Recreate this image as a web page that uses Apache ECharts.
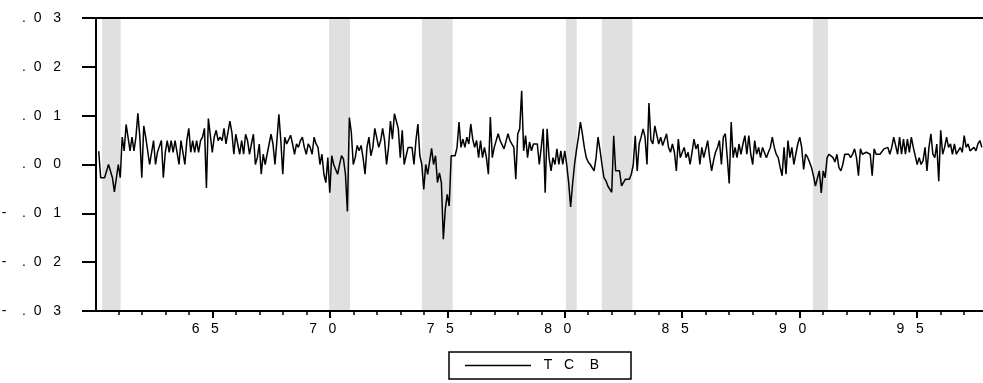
<!DOCTYPE html>
<html>
<head>
<meta charset="utf-8">
<script src="https://cdn.jsdelivr.net/npm/echarts@6/dist/echarts.min.js"></script>
<style>
	html, body { margin: 0; padding: 0; background: #fff; }
	#chart { width: 983px; height: 383px; }
</style>
</head>
<body>
<div id="chart"></div>
<script>
// monthly values, first one is 1960:03
const startYear = 1960;
const startMonth = 3;

const tcb1960s = [
	.0027, -.0027, -.0027, -.0027, -.0027, .0000, .0000, -.0027, -.0056, -.0056,
	.0000, -.0027, .0056, .0028, .0082, .0082, .0028, .0056, .0028, .0056, .0105, .0056,
	-.0027, .0079, .0056, .0056, .0000, .0000, .0049, .0000, .0025, .0025, .0049, -.0027,
	.0025, .0049, .0025, .0049, .0025, .0049, .0025, .0000, .0049, .0025, .0000, .0049,
	.0074, .0025, .0049, .0025, .0049, .0025, .0049, .0056, .0074, -.0048, .0094, .0090,
	.0025, .0056, .0070, .0049, .0056, .0049, .0074, .0042, .0066, .0089, .0066, .0021,
	.0062, .0062, .0021, .0049, .0021, .0062, .0049, .0021, .0042, .0062, .0000, .0014,
	.0042, -.0020, .0021, .0000, .0021, .0021, .0062, .0042, .0000, .0049, .0103, .0049,
	-.0020, .0056, .0042, .0042, .0060, .0042, .0021, .0042, .0035, .0049, .0056, .0035,
	.0021, .0042, .0035, .0021, .0056, .0042, .0035, .0000, .0021, -.0020, -.0037, .0014
];
const tcb1970s = [
	-.0058, .0018, .0000, .0000, -.0020, .0000, .0018, .0011, -.0020, -.0096, .0096, .0066,
	.0000, .0014, .0039, .0028, .0039, .0014, -.0020, .0035, .0056, .0018, .0035, .0074,
	.0074, .0035, .0049, .0074, .0049, .0000, .0035, .0089, .0052, .0104, .0089, .0073,
	.0014, .0070, .0000, .0018, .0035, .0035, .0035, .0000, .0049, .0083, .0018, .0000,
	-.0051, .0000, -.0020, -.0020, .0033, .0000, .0018, -.0037, -.0017, -.0037, -.0153, -.0091,
	-.0061, -.0085, .0018, .0018, .0018, .0035, .0087, .0035, .0052, .0035, .0056, .0042,
	.0083, .0052, .0035, .0049, .0014, .0049, .0014, .0035, .0014, -.0020, .0097, .0014,
	.0035, .0049, .0063, .0049, .0049, .0032, .0032, .0063, .0049, .0049, .0035, -.0030,
	.0063, .0073, .0151, .0028, .0059, .0014, .0046, .0028, .0042, .0042, .0042, .0000,
	.0035, .0073, -.0058, .0073, .0014, -.0013, .0014, .0000, .0032, .0000, .0028, .0000
];
const tcb1980s = [
	.0028, .0000, -.0037, -.0087, -.0040, .0000, .0030, .0056, .0087, .0063, .0035, .0014,
	.0005, .0000, .0000, -.0013, .0014, .0056, .0030, .0000, -.0027, -.0033, -.0044, -.0048,
	-.0057, .0059, -.0013, -.0013, -.0013, -.0044, -.0044, -.0030, -.0030, -.0030, -.0020, .0000,
	.0059, -.0013, .0042, .0056, .0073, .0056, .0000, .0126, .0050, .0042, .0079, .0079,
	.0042, .0056, .0039, .0042, .0063, .0035, .0025, .0042, .0025, -.0013, .0052, .0014,
	.0025, .0035, .0014, .0025, .0000, .0025, .0052, .0032, .0042, .0000, .0035, .0014,
	.0014, .0049, .0014, -.0013, .0008, .0025, .0035, .0049, .0000, .0056, .0063, .0014,
	-.0039, .0087, .0014, .0035, .0014, .0042, .0021, .0042, .0059, .0021, .0059, .0021,
	.0000, .0049, .0021, .0035, .0014, .0035, .0035, .0014, .0025, .0035, .0056, .0035,
	.0021, .0014, -.0006, -.0023, .0035, -.0020, .0049, .0014, .0035, .0000, .0021, .0042
];
const tcb1990s = [
	.0056, .0035, -.0010, .0021, .0015, .0005, -.0006, -.0023, -.0044, -.0048, -.0013, -.0058,
	-.0013, -.0027, .0014, .0021, .0021, .0014, .0005, .0021, -.0006, -.0013, .0000, .0021,
	.0021, .0021, .0014, .0021, .0032, .0014, -.0023, .0032, .0021, .0021, .0025, .0021,
	.0021, -.0023, .0032, .0021, .0021, .0021, .0025, .0032, .0035, .0035, .0021, .0035,
	.0056, .0056, .0021, .0056, .0021, .0052, .0021, .0052, .0025, .0056, .0035, .0035,
	.0000, .0014, .0000, .0008, .0035, -.0013, .0035, .0063, .0021, .0014, .0042, -.0034,
	.0070, .0021, .0035, .0056, .0035, .0042, .0021, .0042, .0021, .0025, .0035, .0025,
	.0059, .0035, .0042, .0028, .0028, .0035, .0028, .0042, .0049, .0035
];

// shaded periods, [from, to] in years
const recessions = [
	[ 1960.31, 1961.10 ],
	[ 1969.97, 1970.86 ],
	[ 1973.92, 1975.23 ],
	[ 1980.05, 1980.51 ],
	[ 1981.58, 1982.88 ],
	[ 1990.56, 1991.20 ]
];

const xMajorYears = [ 1965, 1970, 1975, 1980, 1985, 1990, 1995 ];
const xTickLabels = [ '65', '70', '75', '80', '85', '90', '95' ];
const yTickValues = [ -0.03, -0.02, -0.01, 0, 0.01, 0.02, 0.03 ];
const yTickLabels = [ '-.03', '-.02', '-.01', '.00', '.01', '.02', '.03' ];
const seriesName = 'TCB';

const xMin = 1960.051;
const xMax = 1997.80;
const yTickLength = 14;

const font = '"Liberation Sans", Arial, sans-serif';
const black = '#000';

// spread characters apart the way the original printout does
function spaced( s, gaps ) {
	let out = '';
	for ( let i = 0; i < s.length; i++ ) {
		out += s[ i ];
		if ( i < s.length - 1 ) {
			let gap = s[ i ] === '-' ? 4 : ( s[ i ] === '.' ? 2 : 3 );
			if ( gaps ) {
				gap = gaps[ i ];
			}
			out += ' '.repeat( gap );
		}
	}
	return out;
}

function yLabel( v ) {
	let best = 0;
	yTickValues.forEach( ( t, i ) => {
		if ( Math.abs( t - v ) < Math.abs( yTickValues[ best ] - v ) ) {
			best = i;
		}
	} );
	return spaced( yTickLabels[ best ] );
}

const values = tcb1960s.concat( tcb1970s, tcb1980s, tcb1990s );
const lineData = values.map( ( v, i ) => [ startYear + ( startMonth - 1 + i ) / 12, v ] );

const minorYears = [];
for ( let y = 1961; y <= 1997; y++ ) {
	minorYears.push( y );
}

function xAxisPart( extra ) {
	return Object.assign( {
		type: 'value',
		min: xMin,
		max: xMax,
		position: 'bottom',
		z: 5,
		splitLine: { show: false },
		axisLine: { show: false, onZero: false },
		axisTick: { show: false },
		axisLabel: { show: false }
	}, extra );
}

const chart = echarts.init( document.getElementById( 'chart' ), null, { renderer: 'canvas' } );

chart.setOption( {
	animation: false,
	backgroundColor: '#fff',
	textStyle: { fontFamily: font, color: black },
	grid: {
		left: 96,
		right: 0,
		top: 18,
		bottom: 72,
		containLabel: false,
		outerBoundsMode: 'none'
	},
	legend: {
		data: [ { name: seriesName, icon: 'rect' } ],
		left: 449,
		top: 352,
		padding: [ 6.5, 32, 6.5, 16 ],
		itemWidth: 66,
		itemHeight: 1.5,
		borderColor: black,
		borderWidth: 1.5,
		selectedMode: false,
		formatter: ( name ) => '  ' + spaced( name, [ 3, 4 ] ),
		textStyle: { fontFamily: font, fontSize: 14, color: black }
	},
	xAxis: [
		// bottom line and year labels
		xAxisPart( {
			axisLine: { show: true, onZero: false, lineStyle: { color: black, width: 2 } },
			axisLabel: {
				show: true,
				customValues: xMajorYears,
				margin: 11,
				padding: [ 0, 14, 0, 0 ],
				fontFamily: font,
				fontSize: 14,
				color: black,
				formatter: ( v ) => {
					const i = xMajorYears.indexOf( Math.round( v ) );
					return i < 0 ? '' : spaced( xTickLabels[ i ] );
				}
			}
		} ),
		// yearly ticks
		xAxisPart( {
			axisTick: {
				show: true,
				customValues: minorYears,
				length: 4,
				lineStyle: { color: black, width: 1.5 }
			}
		} ),
		// five-year ticks
		xAxisPart( {
			axisTick: {
				show: true,
				customValues: xMajorYears,
				length: 7,
				lineStyle: { color: black, width: 2 }
			}
		} ),
		// top frame line
		xAxisPart( {
			position: 'top',
			axisLine: { show: true, onZero: false, lineStyle: { color: black, width: 2 } }
		} )
	],
	yAxis: {
		type: 'value',
		min: -0.03,
		max: 0.03,
		position: 'left',
		z: 5,
		splitLine: { show: false },
		axisLine: { show: true, onZero: false, lineStyle: { color: black, width: 2 } },
		axisTick: {
			show: true,
			customValues: yTickValues,
			length: yTickLength,
			lineStyle: { color: black, width: 2 }
		},
		axisLabel: {
			show: true,
			customValues: yTickValues,
			margin: 35,
			fontFamily: font,
			fontSize: 14,
			color: black,
			formatter: yLabel
		}
	},
	series: [ {
		name: seriesName,
		type: 'line',
		data: lineData,
		clip: false,
		showSymbol: false,
		symbol: 'none',
		color: black,
		lineStyle: { color: black, width: 1.5 },
		markArea: {
			silent: true,
			itemStyle: { color: '#e0e0e0', opacity: 1 },
			label: { show: false },
			data: recessions.map( ( r ) => [ { xAxis: r[ 0 ] }, { xAxis: r[ 1 ] } ] )
		}
	} ]
} );

// the y axis ticks do not show up in this build, so draw them as short
// mark lines that run from just left of the frame up to the frame itself
const gridLeft = chart.convertToPixel( { xAxisIndex: 0 }, xMin );
const tickStart = chart.convertFromPixel( { xAxisIndex: 0 }, gridLeft - yTickLength );

chart.setOption( {
	series: [ {
		name: seriesName,
		markLine: {
			silent: true,
			symbol: [ 'none', 'none' ],
			label: { show: false },
			lineStyle: { color: black, width: 2, type: 'solid' },
			data: yTickValues.map( ( v ) => [
				{ coord: [ tickStart, v ] },
				{ coord: [ xMin, v ] }
			] )
		}
	} ]
} );
</script>
</body>
</html>
